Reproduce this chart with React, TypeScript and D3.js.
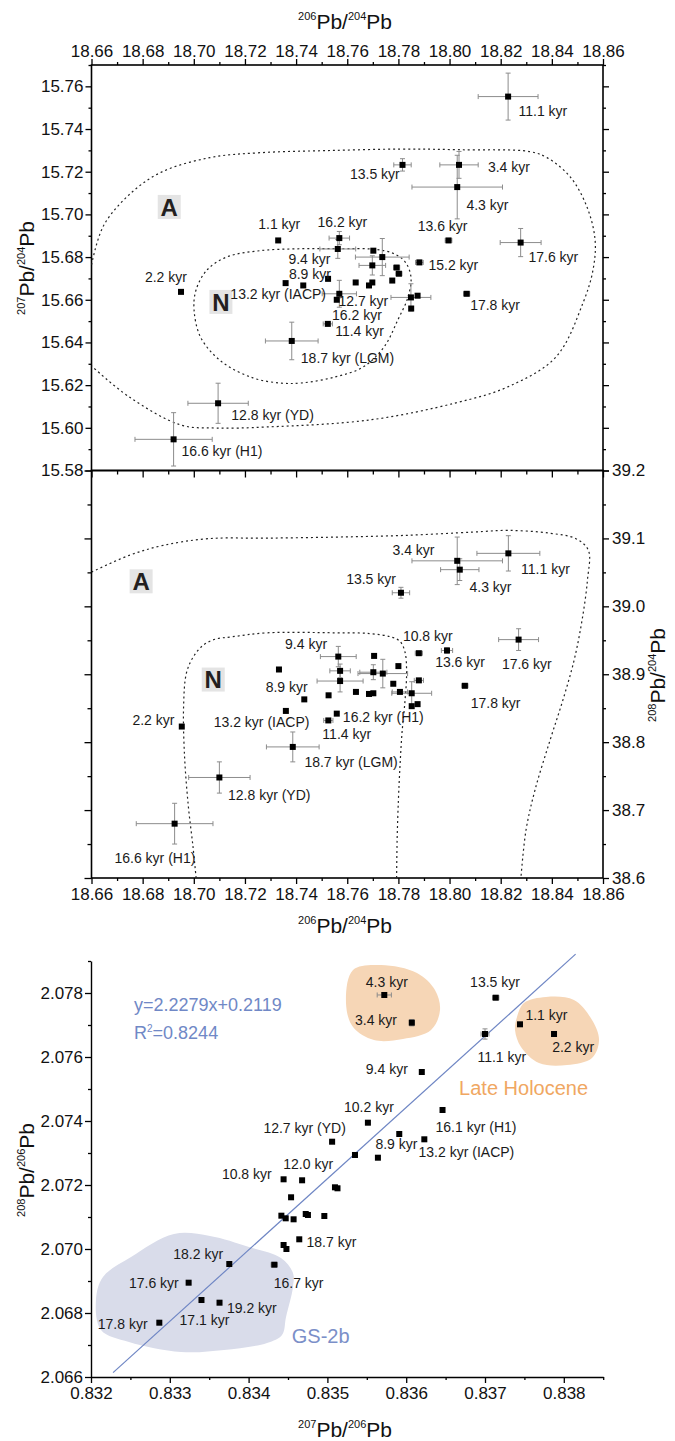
import React, { useEffect, useRef } from "react";
import * as d3 from "d3";

type Pt = [number, number, number, number]; // x, y, xErr, yErr
type Lbl = [string, number, number];

const FONT = "'Liberation Sans', Arial, Helvetica, sans-serif";
const TICK_FONT = "'Liberation Sans Narrow', 'Arial Narrow', 'Liberation Sans', Arial, sans-serif";

// ---------- upper panel: 206Pb/204Pb vs 207Pb/204Pb ----------
const pb207Points: Pt[] = [
  [18.8229, 15.7552, 0.0117, 0.011],
  [18.7816, 15.7232, 0.0034, 0.0029],
  [18.8037, 15.7232, 0.0075, 0.0063],
  [18.803, 15.7128, 0.0177, 0.0149],
  [18.7996, 15.6878, 0.0013, 0.0008],
  [18.8278, 15.6868, 0.008, 0.0066],
  [18.7882, 15.6775, 0.0015, 0.001],
  [18.8067, 15.6628, 0.0012, 0.0005],
  [18.733, 15.6878, 0, 0],
  [18.7569, 15.6889, 0.004, 0.0031],
  [18.7563, 15.6838, 0.007, 0.0044],
  [18.7702, 15.683, 0, 0],
  [18.7737, 15.68, 0.0105, 0.0087],
  [18.7698, 15.6761, 0.0052, 0.0045],
  [18.7793, 15.6751, 0.0012, 0.0008],
  [18.7802, 15.6722, 0.0012, 0.0008],
  [18.7776, 15.669, 0, 0],
  [18.7525, 15.6698, 0, 0],
  [18.7633, 15.6681, 0, 0],
  [18.7698, 15.6681, 0, 0],
  [18.7685, 15.6667, 0, 0],
  [18.7359, 15.6678, 0, 0],
  [18.7428, 15.6667, 0, 0],
  [18.7569, 15.6628, 0.0067, 0.0063],
  [18.7559, 15.66, 0, 0],
  [18.7849, 15.6611, 0.0078, 0.0064],
  [18.7875, 15.6619, 0, 0],
  [18.785, 15.6559, 0, 0],
  [18.695, 15.6637, 0, 0],
  [18.7524, 15.6487, 0.0018, 0.0008],
  [18.7383, 15.6407, 0.0103, 0.0088],
  [18.7095, 15.6115, 0.0118, 0.0094],
  [18.6921, 15.5946, 0.0151, 0.0125],
];

const pb207Labels: Lbl[] = [
  ["11.1 kyr", 18.8365, 15.7483],
  ["13.5 kyr", 18.7708, 15.7189],
  ["3.4 kyr", 18.8232, 15.722],
  ["4.3 kyr", 18.8148, 15.7045],
  ["13.6 kyr", 18.7973, 15.6944],
  ["17.6 kyr", 18.8406, 15.6798],
  ["15.2 kyr", 18.8015, 15.6764],
  ["17.8 kyr", 18.8178, 15.6574],
  ["1.1 kyr", 18.7334, 15.6956],
  ["16.2 kyr", 18.7581, 15.6964],
  ["9.4 kyr", 18.7452, 15.6791],
  ["8.9 kyr", 18.7454, 15.6722],
  ["13.2 kyr (IACP)", 18.733, 15.6626],
  ["12.7 kyr", 18.7663, 15.6596],
  ["16.2 kyr", 18.7638, 15.6529],
  ["11.4 kyr", 18.7648, 15.6451],
  ["18.7 kyr (LGM)", 18.7601, 15.6326],
  ["2.2 kyr", 18.6891, 15.6706],
  ["12.8 kyr (YD)", 18.7308, 15.606],
  ["16.6 kyr (H1)", 18.711, 15.5891],
];

const pb207Fields: Lbl[] = [
  ["A", 18.6904, 15.7035],
  ["N", 18.7106, 15.659],
];

const pb207OuterField: [number, number][] = [
  [18.66, 15.6764], [18.6645, 15.6942], [18.6739, 15.7083], [18.6868, 15.7195],
  [18.7063, 15.7266], [18.7259, 15.7289], [18.7521, 15.7299], [18.7806, 15.7306],
  [18.8041, 15.7303], [18.8315, 15.7294], [18.8381, 15.7266], [18.8471, 15.7177],
  [18.8537, 15.7036], [18.8569, 15.6881], [18.8561, 15.674], [18.8522, 15.6586],
  [18.8416, 15.6332], [18.8228, 15.6192], [18.8025, 15.6117], [18.7689, 15.6037],
  [18.7286, 15.6004], [18.7083, 15.5999], [18.695, 15.6013], [18.6747, 15.6145],
  [18.66, 15.629],
];

const pb207InnerField: [number, number][] = [
  [18.7009, 15.6647], [18.7052, 15.674], [18.713, 15.6801], [18.7259, 15.683],
  [18.7415, 15.6839], [18.7572, 15.6839], [18.7701, 15.6837], [18.7779, 15.6818],
  [18.7826, 15.6778], [18.7849, 15.6708], [18.7838, 15.6614], [18.7798, 15.6506],
  [18.7744, 15.6379], [18.7662, 15.6285], [18.7552, 15.6238], [18.7419, 15.621],
  [18.7337, 15.621], [18.7231, 15.6234], [18.711, 15.6309], [18.7028, 15.6421],
  [18.7001, 15.6553],
];

// ---------- middle panel: 206Pb/204Pb vs 208Pb/204Pb ----------
const pb208Points: Pt[] = [
  [18.823, 39.078, 0.0123, 0.026],
  [18.803, 39.067, 0.0177, 0.035],
  [18.804, 39.054, 0.0075, 0.016],
  [18.781, 39.02, 0.0034, 0.008],
  [18.827, 38.951, 0.0078, 0.016],
  [18.799, 38.935, 0.0022, 0.004],
  [18.788, 38.931, 0.0014, 0.002],
  [18.806, 38.883, 0.0012, 0.001],
  [18.788, 38.891, 0.0018, 0.002],
  [18.78, 38.912, 0, 0],
  [18.778, 38.886, 0, 0],
  [18.7806, 38.874, 0.003, 0.002],
  [18.7852, 38.872, 0.0078, 0.017],
  [18.7852, 38.853, 0, 0],
  [18.7875, 38.856, 0, 0],
  [18.7739, 38.901, 0.0097, 0.021],
  [18.7702, 38.903, 0.0053, 0.011],
  [18.7705, 38.927, 0, 0],
  [18.7634, 38.874, 0, 0],
  [18.7685, 38.871, 0, 0],
  [18.7702, 38.872, 0, 0],
  [18.7565, 38.926, 0.007, 0.015],
  [18.7572, 38.905, 0.004, 0.01],
  [18.7572, 38.89, 0.009, 0.016],
  [18.7333, 38.907, 0, 0],
  [18.7432, 38.863, 0, 0],
  [18.736, 38.846, 0, 0],
  [18.7527, 38.869, 0, 0],
  [18.7526, 38.832, 0.0018, 0.002],
  [18.7559, 38.842, 0, 0],
  [18.6953, 38.823, 0, 0],
  [18.71, 38.748, 0.012, 0.023],
  [18.6925, 38.68, 0.015, 0.03],
  [18.7387, 38.793, 0.0103, 0.022],
];

const pb208Labels: Lbl[] = [
  ["3.4 kyr", 18.7859, 39.0824],
  ["11.1 kyr", 18.8375, 39.0549],
  ["13.5 kyr", 18.7693, 39.0407],
  ["4.3 kyr", 18.816, 39.0284],
  ["10.8 kyr", 18.7915, 38.9569],
  ["9.4 kyr", 18.7439, 38.9437],
  ["13.6 kyr", 18.8041, 38.9172],
  ["17.6 kyr", 18.8302, 38.9143],
  ["17.8 kyr", 18.818, 38.8569],
  ["16.2 kyr (H1)", 18.7741, 38.8363],
  ["11.4 kyr", 18.7598, 38.8113],
  ["8.9 kyr", 18.7363, 38.8804],
  ["2.2 kyr", 18.6842, 38.8324],
  ["13.2 kyr (IACP)", 18.7265, 38.8299],
  ["18.7 kyr (LGM)", 18.7615, 38.7701],
  ["12.8 kyr (YD)", 18.7295, 38.7221],
  ["16.6 kyr (H1)", 18.6848, 38.629],
];

const pb208Fields: Lbl[] = [
  ["A", 18.6794, 39.0368],
  ["N", 18.7076, 38.8922],
];

const pb208OuterField: [number, number][] = [
  [18.66, 39.0504], [18.6747, 39.075], [18.688, 39.0897], [18.7056, 39.0996],
  [18.7286, 39.1004], [18.7552, 39.1019], [18.7822, 39.1044], [18.8092, 39.1093],
  [18.8229, 39.1118], [18.8389, 39.1078], [18.8494, 39.0996], [18.8543, 39.0824],
  [18.8539, 39.0382], [18.8518, 38.9794], [18.8487, 38.9206], [18.8443, 38.8618],
  [18.8393, 38.8029], [18.8334, 38.7294], [18.8299, 38.6706], [18.8279, 38.6],
];

const pb208InnerField: [number, number][] = [
  [18.7009, 38.6], [18.6997, 38.6456], [18.6979, 38.7044], [18.6964, 38.7779],
  [18.696, 38.8515], [18.6971, 38.9015], [18.6997, 38.925], [18.7036, 38.9426],
  [18.7083, 38.9515], [18.7149, 38.9551], [18.7286, 38.961], [18.7552, 38.961],
  [18.7689, 38.9599], [18.7771, 38.9549], [18.7806, 38.9485], [18.7826, 38.9324],
  [18.7832, 38.9015], [18.7826, 38.8618], [18.7814, 38.8132], [18.7806, 38.7632],
  [18.78, 38.7147], [18.7795, 38.6559], [18.7793, 38.6],
];

// ---------- lower panel: 207Pb/206Pb vs 208Pb/206Pb ----------
const ratioPoints: Pt[] = [
  [0.835722, 2.077938, 0.00009, 0.00006],
  [0.836071, 2.077072, 0.00003, 0.0001],
  [0.837136, 2.077853, 0.00004, 0.00006],
  [0.837444, 2.077022, 0, 0],
  [0.837, 2.076719, 0.00005, 0.00016],
  [0.837876, 2.076719, 0, 0],
  [0.836198, 2.075531, 0.00002, 0],
  [0.836461, 2.074344, 0, 0],
  [0.835514, 2.073947, 0, 0],
  [0.835912, 2.073594, 0, 0],
  [0.83623, 2.073428, 0, 0],
  [0.83506, 2.073353, 0.00003, 0],
  [0.83535, 2.072938, 0.00003, 0],
  [0.835641, 2.072853, 0, 0],
  [0.834444, 2.072178, 0, 0],
  [0.834679, 2.072147, 0, 0],
  [0.835096, 2.071928, 0, 0],
  [0.835128, 2.071897, 0.00002, 0],
  [0.834539, 2.071616, 0, 0],
  [0.834416, 2.071041, 0, 0],
  [0.834471, 2.070959, 0, 0],
  [0.834571, 2.070928, 0, 0],
  [0.834725, 2.071094, 0, 0],
  [0.834753, 2.071063, 0, 0],
  [0.834961, 2.071031, 0, 0],
  [0.834643, 2.070303, 0, 0],
  [0.834444, 2.070125, 0, 0],
  [0.83448, 2.07, 0, 0],
  [0.833755, 2.069531, 0, 0],
  [0.834326, 2.069509, 0.00004, 0.00003],
  [0.833239, 2.068947, 0, 0],
  [0.833402, 2.068406, 0, 0],
  [0.833631, 2.068322, 0, 0],
  [0.832867, 2.067697, 0, 0],
];

const ratioLabels: Lbl[] = [
  ["4.3 kyr", 0.835754, 2.078353],
  ["3.4 kyr", 0.835617, 2.077156],
  ["13.5 kyr", 0.837127, 2.078353],
  ["1.1 kyr", 0.837779, 2.077313],
  ["11.1 kyr", 0.837213, 2.076009],
  ["2.2 kyr", 0.838119, 2.076303],
  ["9.4 kyr", 0.835754, 2.075616],
  ["10.2 kyr", 0.835527, 2.074447],
  ["12.7 kyr (YD)", 0.834711, 2.073791],
  ["16.1 kyr (H1)", 0.836886, 2.073822],
  ["8.9 kyr", 0.835876, 2.073272],
  ["13.2 kyr (IACP)", 0.836764, 2.073022],
  ["12.0 kyr", 0.834756, 2.072647],
  ["10.8 kyr", 0.833977, 2.072334],
  ["18.7 kyr", 0.835051, 2.070209],
  ["18.2 kyr", 0.83336, 2.069834],
  ["16.7 kyr", 0.834635, 2.068947],
  ["17.6 kyr", 0.832798, 2.068947],
  ["19.2 kyr", 0.834041, 2.068147],
  ["17.1 kyr", 0.83344, 2.067781],
  ["17.8 kyr", 0.832402, 2.067647],
];

const fitSlope = 2.2279;
const fitIntercept = 0.2119;
const fitRange = [0.83228, 0.83815];

const lateHoloceneA: [number, number][] = [
  [0.835325, 2.078719], [0.83568, 2.078875], [0.836137, 2.078625], [0.836365, 2.078094],
  [0.836429, 2.077469], [0.836315, 2.076844], [0.835959, 2.076563], [0.835591, 2.076531],
  [0.835325, 2.076938], [0.835236, 2.077688],
];
const lateHoloceneB: [number, number][] = [
  [0.837406, 2.07725], [0.837495, 2.077688], [0.837774, 2.077875], [0.838129, 2.077781],
  [0.838358, 2.077156], [0.838447, 2.076531], [0.838358, 2.075969], [0.838041, 2.07575],
  [0.837685, 2.075813], [0.837457, 2.076313], [0.837381, 2.076844],
];
const gs2b: [number, number][] = [
  [0.832063, 2.068406], [0.832127, 2.067469], [0.832482, 2.067094], [0.833142, 2.066781],
  [0.833688, 2.066844], [0.834234, 2.067063], [0.834424, 2.067313], [0.834475, 2.067875],
  [0.834563, 2.068813], [0.834563, 2.06925], [0.834411, 2.069719], [0.834005, 2.070063],
  [0.83351, 2.070406], [0.833053, 2.070469], [0.832508, 2.06975], [0.832152, 2.069125],
];

// ticks
const x206Ticks = [18.66, 18.68, 18.7, 18.72, 18.74, 18.76, 18.78, 18.8, 18.82, 18.84, 18.86];
const y207Ticks = [15.58, 15.6, 15.62, 15.64, 15.66, 15.68, 15.7, 15.72, 15.74, 15.76];
const y208Ticks = [38.6, 38.7, 38.8, 38.9, 39.0, 39.1, 39.2];
const xRatioTicks = [0.832, 0.833, 0.834, 0.835, 0.836, 0.837, 0.838];
const yRatioTicks = [2.066, 2.068, 2.07, 2.072, 2.074, 2.076, 2.078];

const halves = (t: number[], extra?: number) => {
  const out = t.slice(0, -1).map((v, i) => (v + t[i + 1]) / 2);
  if (extra !== undefined) out.push(extra);
  return out;
};

export default function App() {
  const ref = useRef<SVGSVGElement>(null);

  useEffect(() => {
    const svg = d3.select(ref.current);
    svg.selectAll("*").remove();

    const L = 91.5, R = 603;
    const T1 = 65, M = 470.5, B2 = 878;

    const x206 = d3.scaleLinear().domain([18.66, 18.86]).range([L, R]);
    const y207 = d3.scaleLinear().domain([15.58, 15.77]).range([M, T1]);
    const y208 = d3.scaleLinear().domain([38.6, 39.2]).range([B2, M]);
    const xR = d3.scaleLinear().domain([0.832, 0.8385]).range([91, 603.2]);
    const yR = d3.scaleLinear().domain([2.066, 2.079]).range([1377, 961]);

    const styleAxis = (g: any, size: number, keepDomain = false) => {
      if (!keepDomain) g.select(".domain").remove();
      else g.select(".domain").attr("stroke", "#000").attr("stroke-width", 1.4);
      g.attr("font-family", null).attr("font-size", null);
      g.selectAll("line").attr("stroke", "#000").attr("stroke-width", 1.3);
      g.selectAll("text")
        .attr("font-family", TICK_FONT)
        .attr("font-size", size)
        .attr("fill", "#111");
    };

    const addAxis = (axis: any, tx: number, ty: number, size = 17, keep = false) => {
      const g = svg.append("g").attr("transform", `translate(${tx},${ty})`).call(axis);
      styleAxis(g, size, keep);
      return g;
    };

    const noLabel = () => "";

    // ----- axes of upper panel -----
    addAxis(d3.axisTop(x206).tickValues(x206Ticks).tickSize(6).tickPadding(2).tickFormat(d3.format(".2f")), 0, T1);
    addAxis(d3.axisTop(x206).tickValues(halves(x206Ticks)).tickSize(3).tickFormat(noLabel), 0, T1);
    addAxis(d3.axisLeft(y207).tickValues(y207Ticks).tickSize(6).tickPadding(2).tickFormat(d3.format(".2f")), L, 0);
    addAxis(d3.axisLeft(y207).tickValues(halves(y207Ticks, 15.77)).tickSize(3).tickFormat(noLabel), L, 0);
    addAxis(d3.axisRight(y207).tickValues(y207Ticks).tickSize(6).tickFormat(noLabel), R, 0);
    addAxis(d3.axisRight(y207).tickValues(halves(y207Ticks, 15.77)).tickSize(3).tickFormat(noLabel), R, 0);
    addAxis(d3.axisBottom(x206).tickValues(x206Ticks).tickSize(7).tickFormat(noLabel), 0, M);
    addAxis(d3.axisBottom(x206).tickValues(halves(x206Ticks)).tickSize(4).tickFormat(noLabel), 0, M);

    // ----- axes of middle panel -----
    addAxis(d3.axisLeft(y208).tickValues(y208Ticks).tickSize(7).tickFormat(noLabel), L, 0);
    addAxis(d3.axisLeft(y208).tickValues(halves(y208Ticks)).tickSize(4).tickFormat(noLabel), L, 0);
    addAxis(d3.axisRight(y208).tickValues(y208Ticks).tickSize(6).tickPadding(3).tickFormat(d3.format(".1f")), R, 0);
    addAxis(d3.axisRight(y208).tickValues(halves(y208Ticks)).tickSize(3).tickFormat(noLabel), R, 0);
    addAxis(d3.axisBottom(x206).tickValues(x206Ticks).tickSize(6).tickPadding(4).tickFormat(d3.format(".2f")), 0, B2);
    addAxis(d3.axisBottom(x206).tickValues(halves(x206Ticks)).tickSize(3).tickFormat(noLabel), 0, B2);

    // frames
    [[T1, M], [M, B2]].forEach(([a, b]) => {
      svg.append("rect").attr("x", L).attr("y", a).attr("width", R - L).attr("height", b - a)
        .attr("fill", "none").attr("stroke", "#000").attr("stroke-width", 1.6);
    });

    // ----- axes of lower panel -----
    addAxis(d3.axisLeft(yR).tickValues(yRatioTicks).tickSize(6).tickSizeOuter(0).tickPadding(2).tickFormat(d3.format(".3f")), 91, 0, 17, true);
    addAxis(d3.axisLeft(yR).tickValues(halves(yRatioTicks, 2.079)).tickSize(3).tickSizeOuter(0).tickFormat(noLabel), 91, 0);
    addAxis(d3.axisBottom(xR).tickValues(xRatioTicks).tickSize(6).tickSizeOuter(0).tickPadding(4).tickFormat(d3.format(".3f")), 0, 1377, 17, true);
    addAxis(d3.axisBottom(xR).tickValues(halves(xRatioTicks, 0.8385)).tickSize(3).tickSizeOuter(0).tickFormat(noLabel), 0, 1377);

    // ----- axis titles -----
    const pbTitle = (x: number, y: number, a: string, b: string, rot: number) => {
      const t = svg.append("text")
        .attr("transform", `translate(${x},${y}) rotate(${rot})`)
        .attr("text-anchor", "middle")
        .attr("font-family", FONT)
        .attr("fill", "#111");
      t.append("tspan").attr("font-size", 11).attr("dy", -9).text(a);
      t.append("tspan").attr("font-size", 21).attr("dy", 9).text("Pb/");
      t.append("tspan").attr("font-size", 11).attr("dy", -9).text(b);
      t.append("tspan").attr("font-size", 21).attr("dy", 9).text("Pb");
    };
    pbTitle(345, 29, "206", "204", 0);
    pbTitle(34, 268, "207", "204", -90);
    pbTitle(665, 675, "208", "204", -90);
    pbTitle(345, 933, "206", "204", 0);
    pbTitle(34, 1170, "208", "206", -90);
    pbTitle(345, 1437, "207", "206", 0);

    // ----- clip paths for the fields -----
    const defs = svg.append("defs");
    defs.append("clipPath").attr("id", "clipTop").append("rect")
      .attr("x", L).attr("y", T1).attr("width", R - L).attr("height", M - T1);
    defs.append("clipPath").attr("id", "clipMid").append("rect")
      .attr("x", L).attr("y", M).attr("width", R - L).attr("height", B2 - M);

    const dotted = (pts: [number, number][], xs: any, ys: any, closed: boolean, clip: string) => {
      const line = d3.line<[number, number]>()
        .x((d) => xs(d[0])).y((d) => ys(d[1]))
        .curve(closed ? d3.curveCatmullRomClosed : d3.curveCatmullRom);
      svg.append("path").attr("d", line(pts)).attr("clip-path", `url(#${clip})`)
        .attr("fill", "none").attr("stroke", "#222").attr("stroke-width", 1.2)
        .attr("stroke-dasharray", "2,3");
    };

    dotted(pb207OuterField, x206, y207, false, "clipTop");
    dotted(pb207InnerField, x206, y207, true, "clipTop");
    dotted(pb208OuterField, x206, y208, false, "clipMid");
    dotted(pb208InnerField, x206, y208, false, "clipMid");

    // ----- shaded groups in lower panel -----
    const blob = d3.line<[number, number]>().x((d) => xR(d[0])).y((d) => yR(d[1])).curve(d3.curveCatmullRomClosed);
    svg.append("path").attr("d", blob(gs2b)).attr("fill", "#d9dcea");
    svg.append("path").attr("d", blob(lateHoloceneA)).attr("fill", "#f6d6b6");
    svg.append("path").attr("d", blob(lateHoloceneB)).attr("fill", "#f6d6b6");

    // regression line
    svg.append("line")
      .attr("x1", xR(fitRange[0])).attr("y1", yR(fitSlope * fitRange[0] + fitIntercept))
      .attr("x2", xR(fitRange[1])).attr("y2", yR(fitSlope * fitRange[1] + fitIntercept))
      .attr("stroke", "#6f86c4").attr("stroke-width", 1.2);

    // ----- field letters -----
    const fields = (data: Lbl[], xs: any, ys: any) => {
      data.forEach(([t, x, y]) => {
        const cx = xs(x), cy = ys(y);
        svg.append("rect").attr("x", cx - 11.5).attr("y", cy - 12).attr("width", 23).attr("height", 24).attr("fill", "#e4e4e4");
        svg.append("text").attr("x", cx).attr("y", cy).attr("dy", "0.36em").attr("text-anchor", "middle")
          .attr("font-family", FONT).attr("font-weight", "bold").attr("font-size", 24).attr("fill", "#231f20").text(t);
      });
    };
    fields(pb207Fields, x206, y207);
    fields(pb208Fields, x206, y208);

    // ----- points with error bars -----
    const drawPoints = (pts: Pt[], xs: any, ys: any) => {
      const eb = svg.append("g").attr("stroke", "#8c8c8c").attr("stroke-width", 1);
      const cap = 2.5;
      pts.forEach(([x, y, ex, ey]) => {
        const cx = xs(x), cy = ys(y);
        if (ex > 0) {
          const x0 = xs(x - ex), x1 = xs(x + ex);
          eb.append("line").attr("x1", x0).attr("x2", x1).attr("y1", cy).attr("y2", cy);
          eb.append("line").attr("x1", x0).attr("x2", x0).attr("y1", cy - cap).attr("y2", cy + cap);
          eb.append("line").attr("x1", x1).attr("x2", x1).attr("y1", cy - cap).attr("y2", cy + cap);
        }
        if (ey > 0) {
          const y0 = ys(y - ey), y1 = ys(y + ey);
          eb.append("line").attr("x1", cx).attr("x2", cx).attr("y1", y0).attr("y2", y1);
          eb.append("line").attr("x1", cx - cap).attr("x2", cx + cap).attr("y1", y0).attr("y2", y0);
          eb.append("line").attr("x1", cx - cap).attr("x2", cx + cap).attr("y1", y1).attr("y2", y1);
        }
      });
      svg.append("g").selectAll("rect").data(pts).join("rect")
        .attr("x", (d) => xs(d[0]) - 3).attr("y", (d) => ys(d[1]) - 3)
        .attr("width", 6).attr("height", 6).attr("fill", "#000");
    };
    drawPoints(pb207Points, x206, y207);
    drawPoints(pb208Points, x206, y208);
    drawPoints(ratioPoints, xR, yR);

    // ----- labels -----
    const labels = (data: Lbl[], xs: any, ys: any) => {
      svg.append("g").selectAll("text").data(data).join("text")
        .attr("x", (d) => xs(d[1])).attr("y", (d) => ys(d[2])).attr("dy", "0.35em")
        .attr("text-anchor", "middle").attr("font-family", FONT).attr("font-size", 14)
        .attr("fill", "#1a1a1a").text((d) => d[0]);
    };
    labels(pb207Labels, x206, y207);
    labels(pb208Labels, x206, y208);
    labels(ratioLabels, xR, yR);

    // ----- lower panel annotations -----
    const eq = svg.append("g").attr("font-family", FONT).attr("fill", "#7088c6").attr("font-size", 18);
    eq.append("text").attr("x", xR(0.832546)).attr("y", yR(2.077625)).attr("dy", "0.35em")
      .text(`y=${fitSlope}x+${fitIntercept}`);
    const r2 = eq.append("text").attr("x", xR(0.832546)).attr("y", yR(2.07675)).attr("dy", "0.35em");
    r2.append("tspan").text("R");
    r2.append("tspan").attr("font-size", 10).attr("dy", -7).text("2");
    r2.append("tspan").attr("dy", 7).text("=0.8244");

    svg.append("text").attr("x", xR(0.83749)).attr("y", yR(2.075022)).attr("dy", "0.35em")
      .attr("text-anchor", "middle").attr("font-family", FONT).attr("font-size", 20)
      .attr("fill", "#f0a762").text("Late Holocene");
    svg.append("text").attr("x", xR(0.834915)).attr("y", yR(2.067281)).attr("dy", "0.35em")
      .attr("text-anchor", "middle").attr("font-family", FONT).attr("font-size", 20)
      .attr("fill", "#7b8fc8").text("GS-2b");
  }, []);

  return (
    <svg
      ref={ref}
      width={675}
      height={1441}
      style={{ position: "absolute", left: 0, top: 0, background: "#fff" }}
    />
  );
}
